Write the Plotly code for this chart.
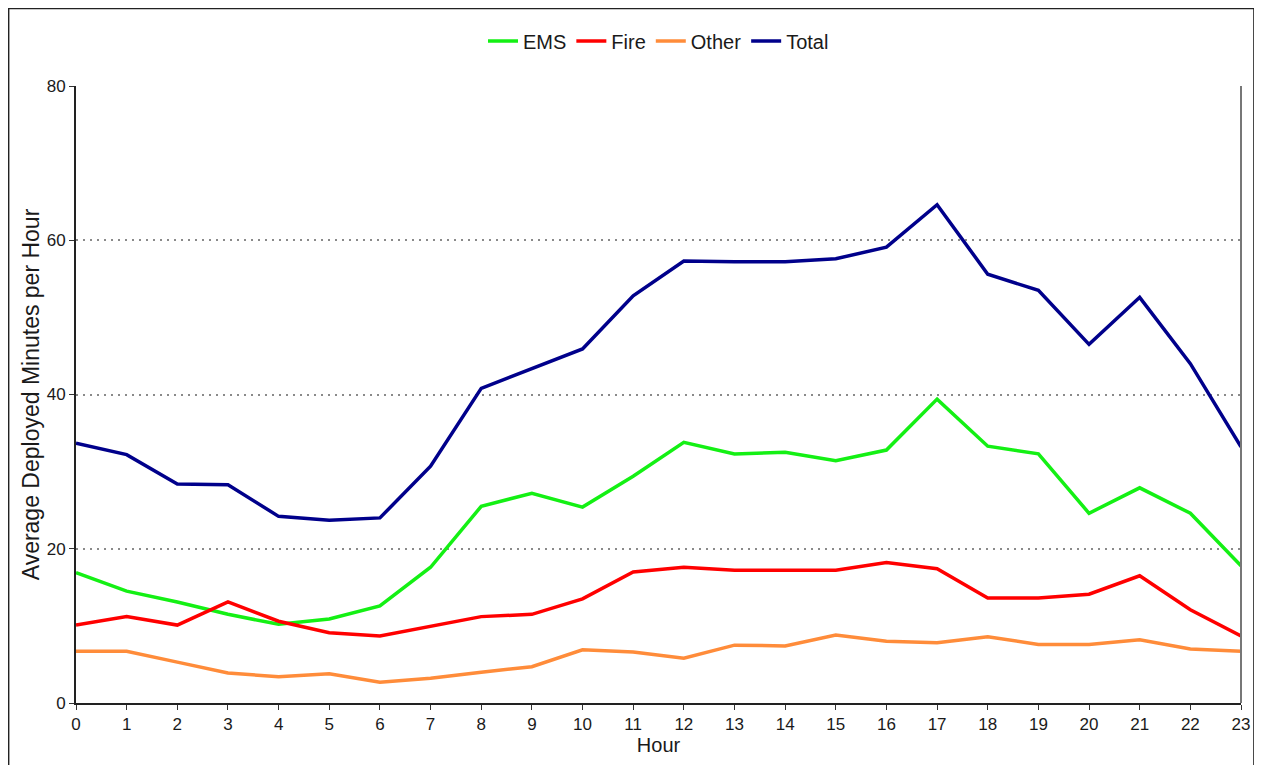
import plotly.graph_objects as go

hours = list(range(24))
ems = [16.9, 14.5, 13.1, 11.5, 10.2, 10.9, 12.6, 17.6, 25.5, 27.2, 25.4, 29.4,
       33.8, 32.3, 32.5, 31.4, 32.8, 39.4, 33.3, 32.3, 24.6, 27.9, 24.6, 17.8]
fire = [10.1, 11.2, 10.1, 13.1, 10.6, 9.1, 8.7, 9.9, 11.2, 11.5, 13.5, 17.0,
        17.6, 17.2, 17.2, 17.2, 18.2, 17.4, 13.6, 13.6, 14.1, 16.5, 12.1, 8.7]
other = [6.7, 6.7, 5.3, 3.9, 3.4, 3.8, 2.7, 3.2, 4.0, 4.7, 6.9, 6.6,
         5.8, 7.5, 7.4, 8.8, 8.0, 7.8, 8.6, 7.6, 7.6, 8.2, 7.0, 6.7]
total = [33.7, 32.2, 28.4, 28.3, 24.2, 23.7, 24.0, 30.7, 40.8, 43.4, 45.9, 52.8,
         57.3, 57.2, 57.2, 57.6, 59.1, 64.6, 55.6, 53.5, 46.5, 52.6, 44.0, 33.2]

series = [("EMS", ems, "#14f014"), ("Fire", fire, "#ff0000"),
          ("Other", other, "#ff8c3a"), ("Total", total, "#00008b")]

fig = go.Figure()
for name, vals, color in series:
    fig.add_trace(go.Scatter(x=hours, y=vals, mode="lines", name=name,
                             line=dict(color=color, width=3.5)))

font = "Liberation Sans, Arial, sans-serif"
fig.update_layout(
    width=1254, height=757,
    margin=dict(l=68, r=18, t=78, b=62),
    paper_bgcolor="white", plot_bgcolor="white",
    font=dict(family=font, color="#1a1a1a", size=17),
    showlegend=True,
    legend=dict(orientation="h", x=0.5, xanchor="center", y=1.073, yanchor="middle",
                font=dict(size=20, family=font, color="#1a1a1a"),
                itemwidth=30, tracegroupgap=0, bgcolor="rgba(0,0,0,0)"),
    xaxis=dict(range=[0, 23], tickmode="linear", tick0=0, dtick=1,
               showgrid=False, zeroline=False, showline=True,
               linecolor="#222222", linewidth=2, ticks="outside", ticklen=5,
               tickcolor="#333333", tickfont=dict(size=17),
               title=dict(text="Hour", font=dict(size=20), standoff=2)),
    yaxis=dict(range=[0, 80], tickmode="linear", tick0=0, dtick=20,
               showgrid=True, gridcolor="#8a8a8a", griddash="2px,5px", gridwidth=1.5,
               zeroline=False, showline=True, linecolor="#222222", linewidth=2,
               ticks="outside", ticklen=5, tickcolor="#333333",
               tickfont=dict(size=17),
               title=dict(text="Average Deployed Minutes per Hour",
                          font=dict(size=23), standoff=1)),
)

# right border of plot area
fig.add_shape(type="line", xref="paper", yref="paper", x0=1, x1=1, y0=0, y1=1,
              line=dict(color="#777777", width=2))
# outer frame
fig.add_shape(type="rect", xref="paper", yref="paper",
              x0=-0.0578, x1=1.0111, y0=-0.12, y1=1.1256,
              line=dict(color="#222222", width=1.5), layer="below")

fig.write_html("out.html")
